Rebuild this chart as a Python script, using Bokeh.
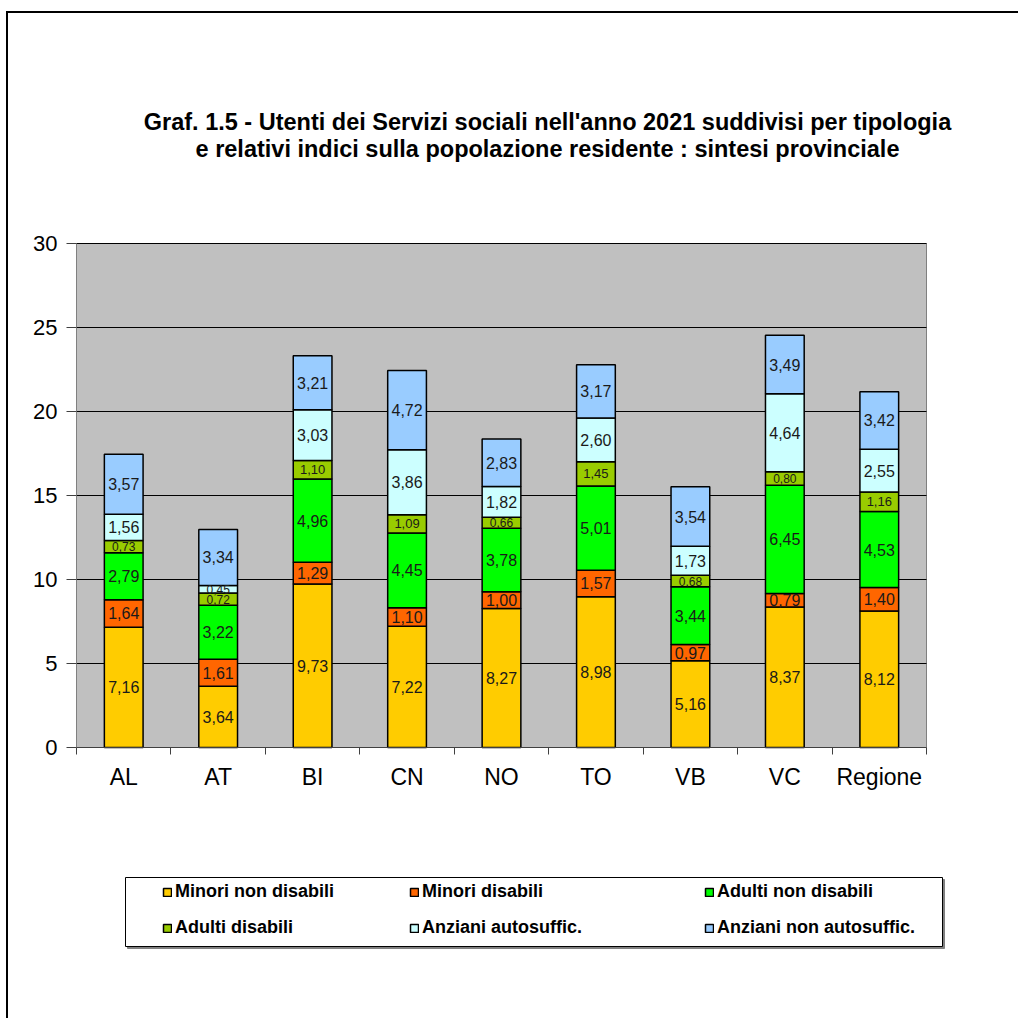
from bokeh.plotting import figure
from bokeh.models import (ColumnDataSource, Range1d, FixedTicker, Legend, LegendItem,
                          LabelSet, Label, BoxAnnotation)
from bokeh.layouts import column
from bokeh.core.properties import value
from bokeh.embed import file_html
from bokeh.resources import INLINE

categories = ["AL", "AT", "BI", "CN", "NO", "TO", "VB", "VC", "Regione"]
series_names = ["Minori non disabili", "Minori disabili", "Adulti non disabili",
                "Adulti disabili", "Anziani autosuffic.", "Anziani non autosuffic."]
minori_non_disabili = [7.16, 3.64, 9.73, 7.22, 8.27, 8.98, 5.16, 8.37, 8.12]
minori_disabili = [1.64, 1.61, 1.29, 1.10, 1.00, 1.57, 0.97, 0.79, 1.40]
adulti_non_disabili = [2.79, 3.22, 4.96, 4.45, 3.78, 5.01, 3.44, 6.45, 4.53]
adulti_disabili = [0.73, 0.72, 1.10, 1.09, 0.66, 1.45, 0.68, 0.80, 1.16]
anziani_autosuffic = [1.56, 0.45, 3.03, 3.86, 1.82, 2.60, 1.73, 4.64, 2.55]
anziani_non_autosuffic = [3.57, 3.34, 3.21, 4.72, 2.83, 3.17, 3.54, 3.49, 3.42]
y_ticks = [0, 5, 10, 15, 20, 25, 30]
title_lines = ["Graf. 1.5 - Utenti dei Servizi sociali nell'anno 2021 suddivisi per tipologia",
               "e relativi indici sulla popolazione residente : sintesi provinciale"]

series_values = [minori_non_disabili, minori_disabili, adulti_non_disabili,
                 adulti_disabili, anziani_autosuffic, anziani_non_autosuffic]
colors = ["#FFCC00", "#FF6600", "#00FF00", "#99CC00", "#CCFFFF", "#99CCFF"]

FONT = "Liberation Sans"

# canvas geometry (pixels); the whole canvas is the plotting frame
CW, CH = 1010, 1005
PL, PR, PT, PB = 68, 918, 230, 734      # plot area edges on the canvas
ncat = len(categories)
ymax = y_ticks[-1]
ux = (PR - PL) / ncat
uy = (PB - PT) / ymax
x_range = Range1d(-PL / ux, ncat + (CW - PR) / ux)
y_range = Range1d(-(CH - PB) / uy, ymax + PT / uy)

p = figure(width=CW, height=CH, output_backend="svg", toolbar_location=None,
           x_range=x_range, y_range=y_range,
           min_border_left=0, min_border_right=0, min_border_top=0, min_border_bottom=0,
           background_fill_color="white", border_fill_color="white")
p.outline_line_color = None
p.xgrid.grid_line_color = None
p.ygrid.grid_line_color = None

# plot area and horizontal grid lines
p.quad(left=[0], right=[ncat], bottom=[0], top=[ymax], fill_color="#C0C0C0",
       line_color="#808080", line_width=1)
p.segment(x0=[0] * (len(y_ticks) - 1), x1=[ncat] * (len(y_ticks) - 1),
          y0=y_ticks[1:], y1=y_ticks[1:], line_color="black", line_width=1)

xs = [i + 0.5 for i in range(ncat)]
bottoms = [0.0] * ncat
renderers = []
lab_x, lab_y, lab_t, lab_s = [], [], [], []
for k, (name, vals, col) in enumerate(zip(series_names, series_values, colors)):
    tops = [b + v for b, v in zip(bottoms, vals)]
    src = ColumnDataSource(dict(x=xs, bottom=bottoms, top=tops))
    r = p.vbar(x="x", bottom="bottom", top="top", width=0.41, source=src,
               fill_color=col, line_color="black", line_width=1.5)
    renderers.append(r)
    for x, b, v in zip(xs, bottoms, vals):
        lab_x.append(x)
        lab_y.append(b + v / 2)
        lab_t.append(f"{v:.2f}".replace(".", ","))
        if k == 3:
            size = "13px" if v >= 1 else "12px"
        else:
            size = "16px" if v >= 0.5 else "12px"
        lab_s.append(size)
    bottoms = tops

lsrc = ColumnDataSource(dict(x=lab_x, y=lab_y, t=lab_t, s=lab_s))
p.add_layout(LabelSet(x="x", y="y", text="t", source=lsrc, text_align="center",
                      text_baseline="middle", text_font=value(FONT), text_font_size="s",
                      text_color="#1a1a1a"))

# axes fixed at the plot-area edges
p.xaxis.fixed_location = 0
p.xaxis.bounds = (0, ncat)
p.xaxis.ticker = FixedTicker(ticks=xs, minor_ticks=list(range(ncat + 1)))
p.xaxis.major_label_overrides = {x: c for x, c in zip(xs, categories)}
p.xaxis.major_tick_out = 0
p.xaxis.major_tick_in = 0
p.xaxis.minor_tick_out = 7
p.xaxis.minor_tick_in = 0
p.xaxis.minor_tick_line_color = "#404040"
p.xaxis.axis_line_color = "#404040"
p.xaxis.major_label_text_font = FONT
p.xaxis.major_label_text_font_size = "23px"
p.xaxis.major_label_text_color = "black"
p.xaxis.major_label_standoff = 9

p.yaxis.fixed_location = 0
p.yaxis.bounds = (0, ymax)
p.yaxis.ticker = FixedTicker(ticks=y_ticks)
p.yaxis.minor_tick_line_color = None
p.yaxis.major_tick_out = 10
p.yaxis.major_tick_in = 0
p.yaxis.major_tick_line_color = "#404040"
p.yaxis.axis_line_color = "#808080"
p.yaxis.major_label_text_font = FONT
p.yaxis.major_label_text_font_size = "22px"
p.yaxis.major_label_text_color = "black"
p.yaxis.major_label_standoff = 9

# title
p.add_layout(Label(x=539, y=CH - 108, x_units="screen", y_units="screen", text=title_lines[0],
                   text_align="center", text_baseline="middle", text_font=FONT,
                   text_font_size="23.5px", text_font_style="bold", text_color="black"))
p.add_layout(Label(x=539, y=CH - 135, x_units="screen", y_units="screen", text=title_lines[1],
                   text_align="center", text_baseline="middle", text_font=FONT,
                   text_font_size="23.5px", text_font_style="bold", text_color="black"))

# legend box (with a soft shadow) and three legend columns
p.add_layout(BoxAnnotation(left=119, right=936, top=CH - 866, bottom=CH - 935,
                           left_units="screen", right_units="screen",
                           top_units="screen", bottom_units="screen",
                           fill_color="#808080", fill_alpha=1, line_color="#808080",
                           line_alpha=1, line_width=1))
p.add_layout(BoxAnnotation(left=117, right=934, top=CH - 864, bottom=CH - 933,
                           left_units="screen", right_units="screen",
                           top_units="screen", bottom_units="screen",
                           fill_color="white", fill_alpha=1, line_color="black",
                           line_alpha=1, line_width=1))
col_x = [154, 401, 696]
for c in range(3):
    items = [LegendItem(label=series_names[c], renderers=[renderers[c]]),
             LegendItem(label=series_names[c + 3], renderers=[renderers[c + 3]])]
    lg = Legend(items=items, location=(col_x[c], CH - 925), orientation="vertical",
                padding=0, margin=0, spacing=15, glyph_width=10, glyph_height=10,
                label_height=20, label_standoff=3, label_text_font=FONT,
                label_text_font_size="18px", label_text_font_style="bold",
                label_text_color="black", border_line_color=None,
                background_fill_alpha=0)
    p.add_layout(lg)

layout = column(p, spacing=0, margin=(11, 0, 0, 6),
                styles={"border-top": "2px solid black", "border-left": "2px solid black"})

open("out.html", "w").write(file_html(layout, INLINE))
